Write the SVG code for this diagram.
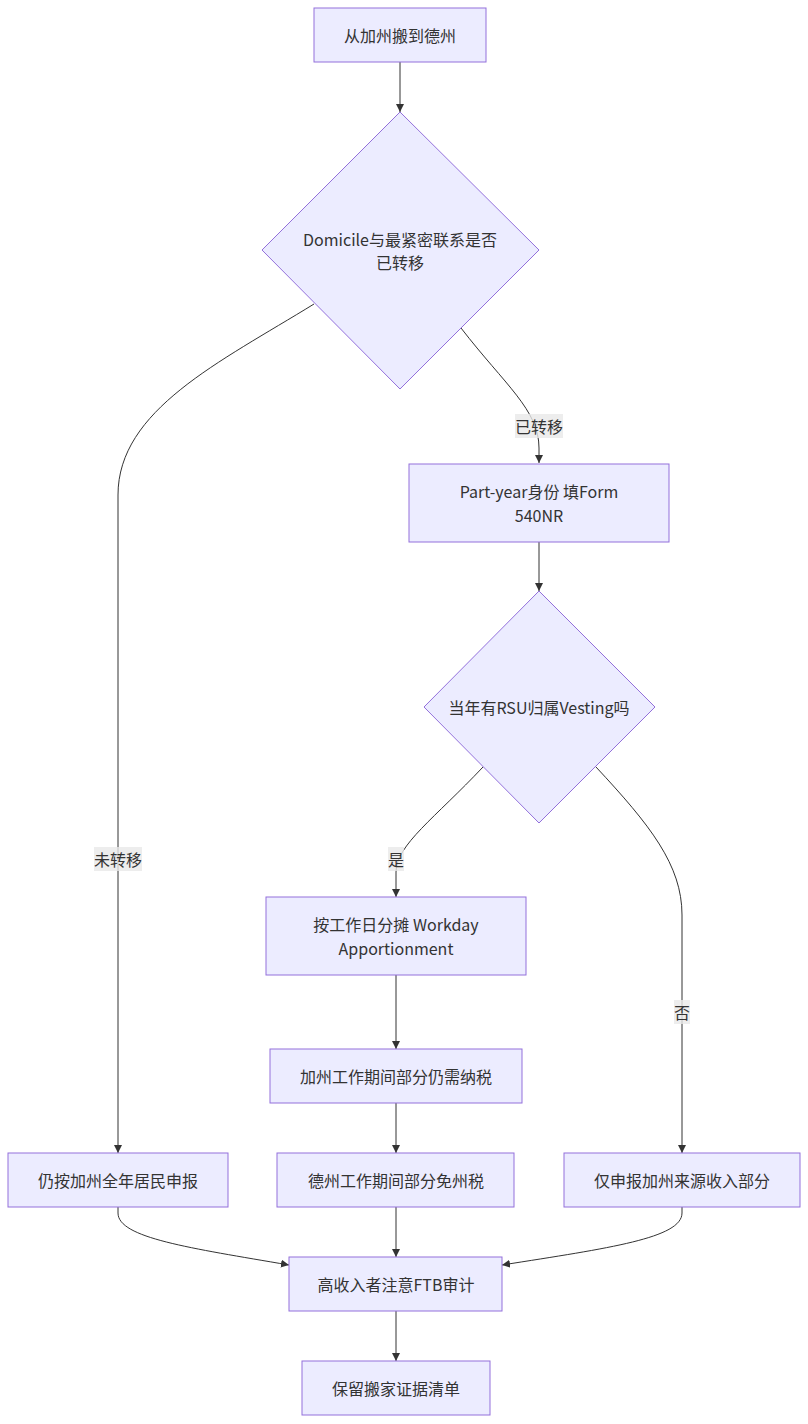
<svg xmlns="http://www.w3.org/2000/svg" width="808" height="1424" viewBox="0 0 808 1424">
<style>
.node rect,.node polygon{fill:#ECECFF;stroke:#9370DB;stroke-width:1}
text{font-family:"Noto Sans CJK SC","Noto Sans",sans-serif;font-size:16px;fill:#333;text-anchor:middle;dominant-baseline:central}
.edge{fill:none;stroke:#333;stroke-width:1}
.lbl rect{fill:#e8e8e8;fill-opacity:0.8;stroke:none}
</style>
<defs>
<marker id="arr" viewBox="0 0 10 10" refX="10" refY="5" markerWidth="8" markerHeight="8" markerUnits="userSpaceOnUse" orient="auto">
<path d="M0,0 L10,5 L0,10 z" fill="#333"/>
</marker>
</defs>
<rect width="808" height="1424" fill="#fff"/>
<g id="connectors">
<path class="edge" d="M400,62 L400,112" marker-end="url(#arr)"/>
<path class="edge" d="M314,304 C220,362 118,410 118,495 L118,1153" marker-end="url(#arr)"/>
<path class="edge" d="M461,328 C505,385 539,410 539,448 L539,463" marker-end="url(#arr)"/>
<path class="edge" d="M539,542 L539,591" marker-end="url(#arr)"/>
<path class="edge" d="M483,767 C435,818 396,845 396,872 L396,897" marker-end="url(#arr)"/>
<path class="edge" d="M596,767 C650,825 682,865 682,915 L682,1153" marker-end="url(#arr)"/>
<path class="edge" d="M396,975 L396,1049" marker-end="url(#arr)"/>
<path class="edge" d="M396,1103 L396,1153" marker-end="url(#arr)"/>
<path class="edge" d="M396,1207 L396,1257" marker-end="url(#arr)"/>
<path class="edge" d="M118,1207 L118,1213 C118,1238 190,1248 289,1265" marker-end="url(#arr)"/>
<path class="edge" d="M682,1207 L682,1213 C682,1238 610,1248 502,1265" marker-end="url(#arr)"/>
<path class="edge" d="M396,1311 L396,1361" marker-end="url(#arr)"/>
<g class="lbl"><rect x="94" y="847" width="48" height="24"/><text x="118" y="859">未转移</text></g>
<g class="lbl"><rect x="515" y="414" width="48" height="24"/><text x="539" y="426">已转移</text></g>
<g class="lbl"><rect x="388" y="847" width="16" height="24"/><text x="396" y="859">是</text></g>
<g class="lbl"><rect x="674" y="1000" width="16" height="24"/><text x="682" y="1012">否</text></g>
</g>
<g id="n1" class="node"><rect x="314" y="8" width="172" height="54"/><text x="400" y="35">从加州搬到德州</text></g>
<g id="d1" class="node"><polygon points="400,112 539,250 400,389 262,250"/><text x="400" y="239">Domicile与最紧密联系是否</text><text x="400" y="262">已转移</text></g>
<g id="n2" class="node"><rect x="409" y="464" width="260" height="78"/><text x="539" y="491">Part-year身份 填Form</text><text x="539" y="515">540NR</text></g>
<g id="d2" class="node"><polygon points="539,591 655,707 539,823 424,707"/><text x="539" y="707">当年有RSU归属Vesting吗</text></g>
<g id="n3" class="node"><rect x="266" y="897" width="260" height="78"/><text x="396" y="924">按工作日分摊 Workday</text><text x="396" y="948">Apportionment</text></g>
<g id="n4" class="node"><rect x="270" y="1049" width="252" height="54"/><text x="396" y="1076">加州工作期间部分仍需纳税</text></g>
<g id="n5" class="node"><rect x="8" y="1153" width="220" height="54"/><text x="118" y="1180">仍按加州全年居民申报</text></g>
<g id="n6" class="node"><rect x="277" y="1153" width="237" height="54"/><text x="396" y="1180">德州工作期间部分免州税</text></g>
<g id="n7" class="node"><rect x="564" y="1153" width="236" height="54"/><text x="682" y="1180">仅申报加州来源收入部分</text></g>
<g id="n8" class="node"><rect x="289" y="1257" width="213" height="54"/><text x="396" y="1284">高收入者注意FTB审计</text></g>
<g id="n9" class="node"><rect x="302" y="1361" width="188" height="54"/><text x="396" y="1388">保留搬家证据清单</text></g>
</svg>
